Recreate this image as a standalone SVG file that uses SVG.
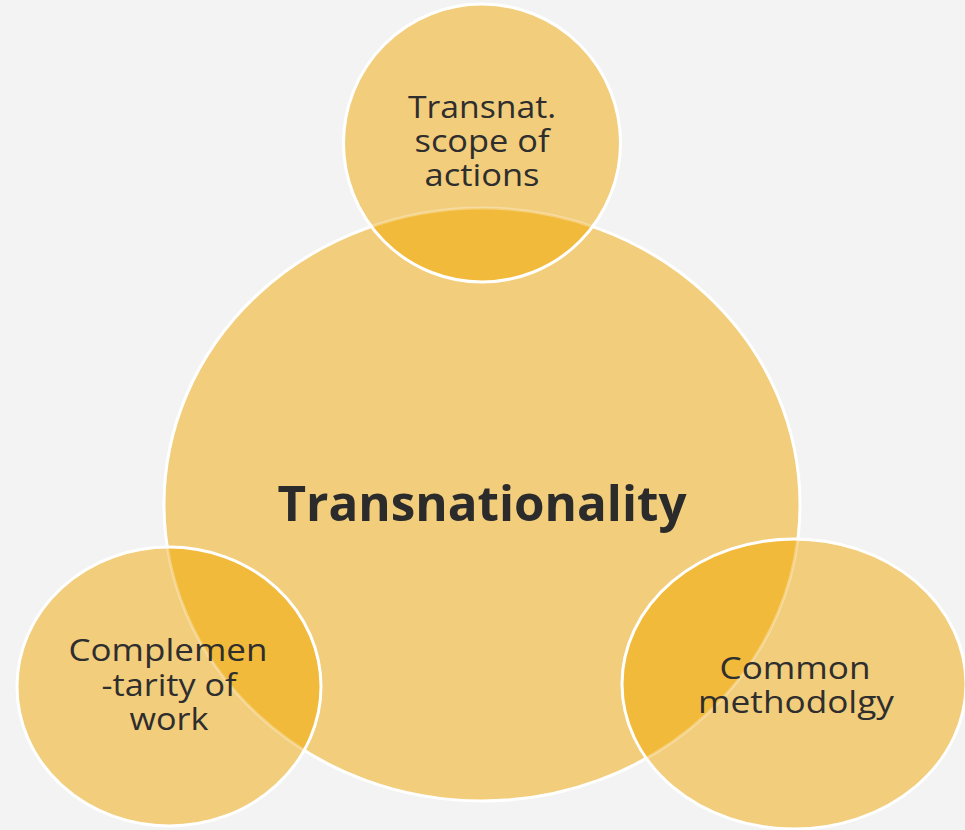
<svg xmlns="http://www.w3.org/2000/svg" width="965" height="830" viewBox="0 0 965 830">
<style>
.bg{fill:#f3f3f3}
.fill{fill:#f2cd7b}
.edge{fill:none;stroke:#ffffff;stroke-width:3}
.over{fill:#f2ba3b;stroke:#ffffff;stroke-opacity:0.3;stroke-width:3}
.lbl{font-family:"Open Sans","Liberation Sans",sans-serif;font-size:31px;fill:#2e2e2e;text-anchor:middle}
.title{font-family:"Open Sans","Liberation Sans",sans-serif;font-size:49px;font-weight:bold;fill:#2b2b2b;text-anchor:middle}
</style>
<defs>
<clipPath id="cTop"><ellipse cx="482" cy="143" rx="138.5" ry="139"/></clipPath>
<clipPath id="cLeft"><ellipse cx="169" cy="686.5" rx="152" ry="139.5"/></clipPath>
<clipPath id="cRight"><ellipse cx="794" cy="684" rx="172" ry="145"/></clipPath>
</defs>
<rect class="bg" x="0" y="0" width="965" height="830"/>
<g id="center">
<ellipse class="fill" cx="482" cy="504.5" rx="318" ry="296.5"/>
<ellipse class="edge" cx="482" cy="504.5" rx="318" ry="296.5"/>
</g>
<g id="top">
<ellipse class="fill" cx="482" cy="143" rx="138.5" ry="139"/>
<ellipse class="over" clip-path="url(#cTop)" cx="482" cy="504.5" rx="318" ry="296.5"/>
<ellipse class="edge" cx="482" cy="143" rx="138.5" ry="139"/>
<text class="lbl" x="482" y="118" textLength="148" lengthAdjust="spacingAndGlyphs">Transnat.</text>
<text class="lbl" x="482" y="152" textLength="135" lengthAdjust="spacingAndGlyphs">scope of</text>
<text class="lbl" x="482" y="186" textLength="115" lengthAdjust="spacingAndGlyphs">actions</text>
</g>
<g id="left">
<ellipse class="fill" cx="169" cy="686.5" rx="152" ry="139.5"/>
<ellipse class="over" clip-path="url(#cLeft)" cx="482" cy="504.5" rx="318" ry="296.5"/>
<ellipse class="edge" cx="169" cy="686.5" rx="152" ry="139.5"/>
<text class="lbl" x="168" y="661" textLength="199" lengthAdjust="spacingAndGlyphs">Complemen</text>
<text class="lbl" x="169" y="696" textLength="135" lengthAdjust="spacingAndGlyphs">-tarity of</text>
<text class="lbl" x="169" y="730" textLength="79" lengthAdjust="spacingAndGlyphs">work</text>
</g>
<g id="right">
<ellipse class="fill" cx="794" cy="684" rx="172" ry="145"/>
<ellipse class="over" clip-path="url(#cRight)" cx="482" cy="504.5" rx="318" ry="296.5"/>
<ellipse class="edge" cx="794" cy="684" rx="172" ry="145"/>
<text class="lbl" x="795" y="679" textLength="151" lengthAdjust="spacingAndGlyphs">Common</text>
<text class="lbl" x="796" y="713" textLength="196" lengthAdjust="spacingAndGlyphs">methodolgy</text>
</g>
<g id="title">
<text class="title" x="482" y="521" textLength="409" lengthAdjust="spacingAndGlyphs">Transnationality</text>
</g>
<g id="connectors"></g>
</svg>
